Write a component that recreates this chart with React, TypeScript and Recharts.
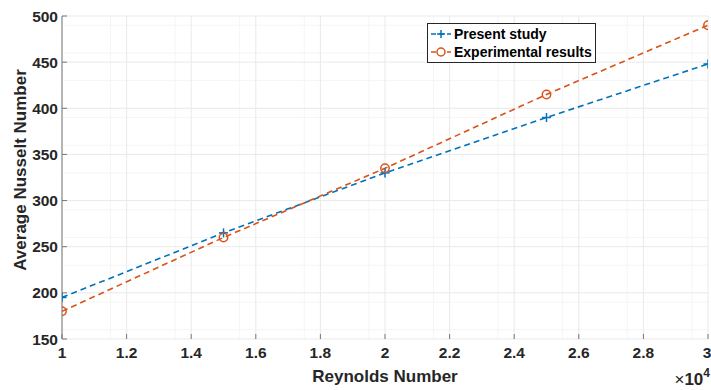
import React from 'react';
import { LineChart, Line, XAxis, YAxis, CartesianGrid, Label } from 'recharts';

const reynolds = [1, 1.5, 2, 2.5, 3];
const presentStudy = [195, 265, 330, 390, 448];
const experimental = [180, 260, 335, 415, 490];

const xTicks = [1, 1.2, 1.4, 1.6, 1.8, 2, 2.2, 2.4, 2.6, 2.8, 3];
const yTicks = [150, 200, 250, 300, 350, 400, 450, 500];
const xMinor = [1.05, 1.1, 1.15, 1.25, 1.3, 1.35, 1.45, 1.5, 1.55, 1.65, 1.7, 1.75, 1.85, 1.9, 1.95, 2.05, 2.1, 2.15, 2.25, 2.3, 2.35, 2.45, 2.5, 2.55, 2.65, 2.7, 2.75, 2.85, 2.9, 2.95];
const yMinor = [160, 170, 180, 190, 210, 220, 230, 240, 260, 270, 280, 290, 310, 320, 330, 340, 360, 370, 380, 390, 410, 420, 430, 440, 460, 470, 480, 490];

const BLUE = '#0072BD';
const ORANGE = '#D95319';
const FONT = '"Liberation Sans", Arial, Helvetica, sans-serif';

const data = reynolds.map((re, i) => ({
  re,
  present: presentStudy[i],
  experimental: experimental[i],
}));

const PlusDot = (props: any) => {
  const { cx, cy } = props;
  if (cx == null || cy == null) return null;
  return (
    <g>
      <line x1={cx - 4.5} x2={cx + 4.5} y1={cy} y2={cy} stroke={BLUE} strokeWidth={1.5} />
      <line x1={cx} x2={cx} y1={cy - 4.5} y2={cy + 4.5} stroke={BLUE} strokeWidth={1.5} />
    </g>
  );
};

const CircleDot = (props: any) => {
  const { cx, cy } = props;
  if (cx == null || cy == null) return null;
  return <circle cx={cx} cy={cy} r={4.2} fill="none" stroke={ORANGE} strokeWidth={1.5} />;
};

const LegendBox = () => (
  <div
    style={{
      position: 'absolute',
      left: 427,
      top: 23,
      border: '1px solid #262626',
      background: '#fff',
      padding: '1px 3px 1px 2px',
      fontFamily: FONT,
      fontWeight: 'bold',
      fontSize: 14,
      color: '#000',
      lineHeight: '18px',
      whiteSpace: 'nowrap',
    }}
  >
    {[
      { name: 'Present study', color: BLUE, mark: 'plus' },
      { name: 'Experimental results', color: ORANGE, mark: 'circle' },
    ].map((item) => (
      <div key={item.name} style={{ display: 'flex', alignItems: 'center' }}>
        <svg width={22} height={14} style={{ marginRight: 2 }}>
          <line x1={1} x2={21} y1={7} y2={7} stroke={item.color} strokeWidth={1.5} strokeDasharray="5 3" />
          {item.mark === 'plus' ? (
            <g stroke={item.color} strokeWidth={1.5}>
              <line x1={7} x2={15} y1={7} y2={7} />
              <line x1={11} x2={11} y1={3} y2={11} />
            </g>
          ) : (
            <circle cx={11} cy={7} r={4} fill="#fff" stroke={item.color} strokeWidth={1.5} />
          )}
        </svg>
        <span>{item.name}</span>
      </div>
    ))}
  </div>
);

const tickStyle = { fontFamily: FONT, fontWeight: 'bold', fontSize: 15.5, fill: '#262626' };

export default function App() {
  return (
    <div style={{ position: 'absolute', left: 0, top: 0, width: 711, height: 390, background: '#fff' }}>
      <LineChart width={711} height={390} data={data} margin={{ top: 16, right: 3, bottom: 0, left: 0 }}>
        <CartesianGrid
          xAxisId="b"
          yAxisId="l"
          stroke="#f5f5f5"
          verticalValues={xMinor}
          horizontalValues={yMinor}
        />
        <CartesianGrid
          xAxisId="b"
          yAxisId="l"
          stroke="#e9e9e9"
          verticalValues={xTicks}
          horizontalValues={yTicks}
        />
        <XAxis
          xAxisId="b"
          dataKey="re"
          type="number"
          domain={[1, 3]}
          ticks={xTicks}
          allowDataOverflow
          height={51}
          axisLine={false}
          tickSize={-5}
          tickMargin={13}
          tickLine={{ stroke: '#777' }}
          tick={tickStyle}
          tickFormatter={(v: number) => String(v)}
        >
          <Label
            content={(p: any) => {
              const vb = p.viewBox || {};
              return (
                <text
                  x={vb.x + vb.width / 2}
                  y={382}
                  textAnchor="middle"
                  style={{ fontFamily: FONT, fontWeight: 'bold', fontSize: 17 }}
                  fill="#262626"
                >
                  Reynolds Number
                </text>
              );
            }}
          />
          <Label
            content={() => (
              <text x={710} y={385} textAnchor="end" style={{ fontFamily: FONT, fontSize: 17 }} fill="#262626">
                <tspan>×</tspan>
                <tspan fontWeight="bold">10</tspan>
                <tspan fontWeight="bold" fontSize={12} dy={-8}>4</tspan>
              </text>
            )}
          />
        </XAxis>
        <XAxis
          xAxisId="t"
          orientation="top"
          type="number"
          domain={[1, 3]}
          ticks={xTicks}
          height={0}
          axisLine={{ stroke: '#d9d9d9' }}
          tickSize={-5}
          tickLine={{ stroke: '#999' }}
          tickFormatter={() => ''}
        />
        <YAxis
          yAxisId="l"
          type="number"
          domain={[150, 500]}
          ticks={yTicks}
          allowDataOverflow
          width={62}
          axisLine={{ stroke: '#777' }}
          tickSize={-5}
          tickMargin={9}
          tickLine={{ stroke: '#777' }}
          tick={tickStyle}
        >
          <Label
            content={() => (
              <text
                x={26}
                y={170}
                transform="rotate(-90 26 170)"
                textAnchor="middle"
                style={{ fontFamily: FONT, fontWeight: 'bold', fontSize: 17 }}
                fill="#262626"
              >
                Average Nusselt Number
              </text>
            )}
          />
        </YAxis>
        <YAxis
          yAxisId="r"
          orientation="right"
          type="number"
          domain={[150, 500]}
          ticks={yTicks}
          width={0}
          axisLine={{ stroke: '#777' }}
          tickSize={-5}
          tickLine={{ stroke: '#777' }}
          tickFormatter={() => ''}
        />
        <Line
          xAxisId="b"
          yAxisId="l"
          type="linear"
          dataKey="present"
          name="Present study"
          stroke={BLUE}
          strokeWidth={1.6}
          strokeDasharray="6 4"
          dot={<PlusDot />}
          activeDot={false}
          isAnimationActive={false}
        />
        <Line
          xAxisId="b"
          yAxisId="l"
          type="linear"
          dataKey="experimental"
          name="Experimental results"
          stroke={ORANGE}
          strokeWidth={1.6}
          strokeDasharray="6 4"
          dot={<CircleDot />}
          activeDot={false}
          isAnimationActive={false}
        />
      </LineChart>
      <LegendBox />
    </div>
  );
}
